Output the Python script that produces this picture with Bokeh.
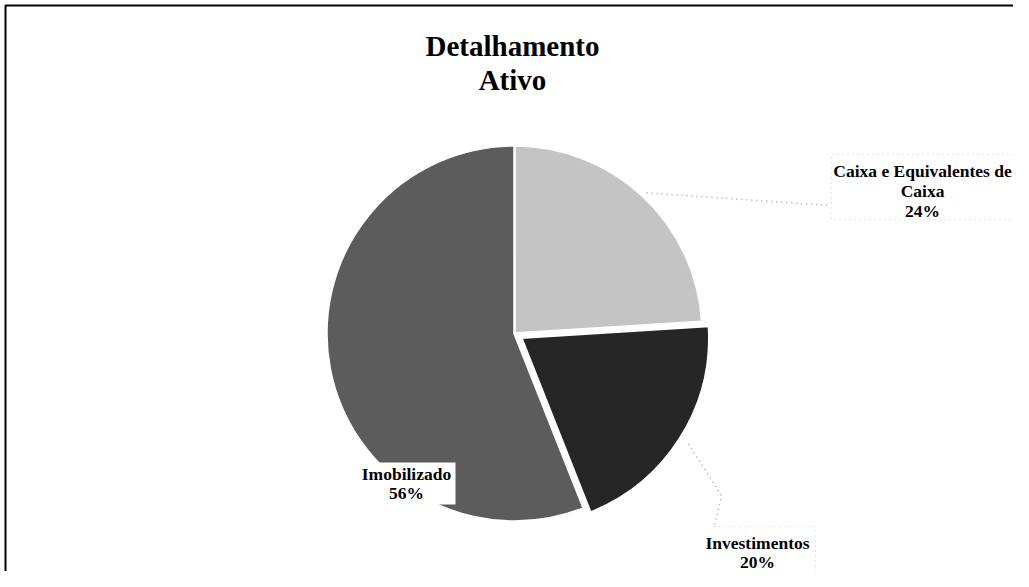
import math
from bokeh.plotting import figure
from bokeh.models import Range1d, BoxAnnotation
from bokeh.core.properties import value
from bokeh.embed import file_html
from bokeh.resources import INLINE

# ---- data ----
categories = ["Caixa e Equivalentes de Caixa", "Investimentos", "Imobilizado"]
label_lines = [["Caixa e Equivalentes de", "Caixa"], ["Investimentos"], ["Imobilizado"]]
percents = [24, 20, 56]
colors = ["#c4c4c4", "#262626", "#5c5c5c"]
explode = [0, 8, 0]
title_lines = ["Detalhamento", "Ativo"]

W, H = 1013, 571
p = figure(width=W, height=H, output_backend="svg", toolbar_location=None,
           x_range=Range1d(0, W), y_range=Range1d(0, H), min_border=0)
p.axis.visible = False
p.grid.visible = False
p.outline_line_color = None
p.background_fill_color = "white"
p.border_fill_color = "white"

# frame (scanned page border), in the plot's pixel-like data units
p.add_layout(BoxAnnotation(left=5, right=W + 30, bottom=-30, top=H - 5,
                           fill_alpha=0, line_color="black", line_alpha=1.0,
                           line_width=2))

FONT = value("Liberation Serif")

# title
for i, t in enumerate(title_lines):
    p.text(x=[512], y=[H - 45 - i * 34], text=[t], text_font=FONT, text_font_size="29px",
           text_font_style="bold", text_align="center", text_baseline="alphabetic",
           text_color="black")

cx, cy, r = 514, 238, 188
total = sum(percents)
start = math.pi / 2
mids = []
for cat, pct, col, ex in zip(categories, percents, colors, explode):
    sweep = 2 * math.pi * pct / total
    end = start - sweep
    mid = start - sweep / 2
    mids.append(mid)
    ox, oy = cx + ex * math.cos(mid), cy + ex * math.sin(mid)
    p.wedge(x=[ox], y=[oy], radius=r, start_angle=end, end_angle=start,
            direction="anticlock", fill_color=col, line_color="white", line_width=2.5)
    start = end

LEAD = dict(line_color="#a0a0a0", line_dash="1 4", line_width=1.5)
# leader lines
m0 = mids[0]
sx, sy = cx + (r + 5) * math.cos(m0), cy + (r + 5) * math.sin(m0)
p.line(x=[sx, 829], y=[sy, 366], **LEAD)
m1 = mids[1]
sx, sy = cx + (r + 18) * math.cos(m1), cy + (r + 18) * math.sin(m1)
p.line(x=[sx, 721, 714], y=[sy, 76, 46], **LEAD)

# faint label boxes
BOX = dict(line_color="#c8c8c8", line_dash="1 4", line_width=1)
p.line(x=[1013, 831, 831, 1013], y=[417, 417, 352, 352], **BOX)
p.line(x=[714, 815, 815], y=[45, 45, 0], **BOX)

LBL = dict(text_font=FONT, text_font_size="17.5px", text_font_style="bold",
           text_align="center", text_baseline="middle", text_color="black")

# Caixa label
lines0 = label_lines[0] + [f"{percents[0]}%"]
for i, t in enumerate(lines0):
    p.text(x=[922], y=[401 - i * 20], text=[t], **LBL)

# Investimentos label
lines1 = label_lines[1] + [f"{percents[1]}%"]
for i, t in enumerate(lines1):
    p.text(x=[757], y=[29 - i * 19], text=[t], **LBL)

# Imobilizado label with white background
p.rect(x=[406], y=[88], width=98, height=42, fill_color="white", line_color=None)
lines2 = label_lines[2] + [f"{percents[2]}%"]
for i, t in enumerate(lines2):
    p.text(x=[406], y=[98 - i * 19], text=[t], **LBL)

open("out.html", "w").write(file_html(p, INLINE))
